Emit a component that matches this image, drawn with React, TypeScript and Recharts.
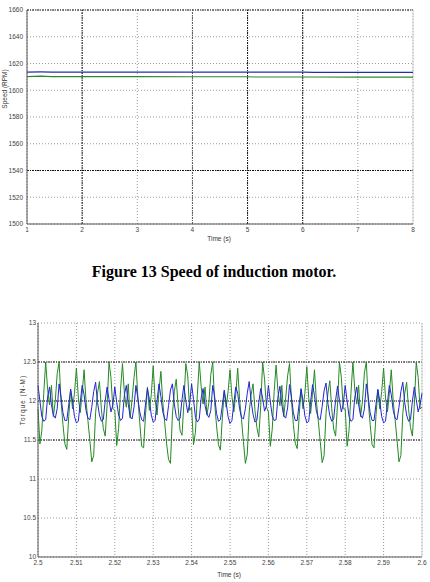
import React from "react";
import { LineChart, Line, XAxis, YAxis, CartesianGrid, ReferenceLine } from "recharts";

// ---------- Speed of induction motor (RPM) ----------
const speedTime = [1, 1.25, 1.45, 2, 3, 4, 5, 5.15, 6, 6.2, 7, 8];
const speedBlue = [1613.6, 1613.7, 1613.6, 1613.6, 1613.6, 1613.6, 1613.5, 1613.5, 1613.5, 1613.4, 1613.3, 1613.3];
const speedGreen = [1610.2, 1610.6, 1610.2, 1610.2, 1610.2, 1610.1, 1610.1, 1609.9, 1609.9, 1609.9, 1609.8, 1609.8];
const speedTicksX = [1, 2, 3, 4, 5, 6, 7, 8];
const speedTicksY = [1500, 1520, 1540, 1560, 1580, 1600, 1620, 1640, 1660];

// ---------- Electromagnetic torque (N-M), sampled every 0.5 ms ----------
const TORQUE_T0 = 2.5;
const TORQUE_DT = 0.0005;

const torqueGreenA = [11.9, 11.45, 11.62, 12.1, 12.5, 12.15, 11.95, 12.2, 11.8, 12.0, 12.35, 12.5, 12.0, 11.7, 11.45, 11.38, 11.8, 12.15, 11.9, 12.1, 12.42, 12.05, 11.85, 12.1, 12.4, 12.0, 11.75, 11.5, 11.22, 11.3, 11.85, 12.1, 12.25, 11.9, 11.65, 11.55, 11.95, 12.5, 12.3, 11.9];
const torqueGreenB = [11.88, 11.43, 11.65, 12.15, 12.48, 12.1, 11.92, 12.22, 11.78, 12.02, 12.3, 12.5, 12.05, 11.72, 11.42, 11.4, 11.82, 12.18, 11.88, 12.08, 12.45, 12.02, 11.82, 12.12, 12.38, 11.98, 11.72, 11.45, 11.25, 11.2, 11.82, 12.12, 12.28, 11.92, 11.62, 11.56, 11.98, 12.48, 12.32, 11.88];
const torqueGreenC = [11.92, 11.44, 11.6, 12.08, 12.5, 12.18, 11.96, 12.18, 11.82, 11.98, 12.34, 12.5, 11.98, 11.68, 11.44, 11.37, 11.78, 12.12, 11.92, 12.12, 12.4, 12.06, 11.86, 12.08, 12.42, 12.02, 11.76, 11.48, 11.2, 11.32, 11.86, 12.08, 12.22, 11.88, 11.66, 11.54, 11.94, 12.5, 12.28, 11.92];
const torqueGreenD = [11.86, 11.42, 11.64, 12.12, 12.46, 12.12, 11.94, 12.2, 11.8, 12.04, 12.32, 12.48, 12.02, 11.7, 11.46, 11.39, 11.8, 12.16, 11.9, 12.1, 12.44, 12.04, 11.84, 12.1, 12.4, 12.0, 11.74, 11.48, 11.21, 11.3, 11.84, 12.1, 12.26, 11.9, 11.64, 11.55, 11.96, 12.5, 12.3, 11.9];
const torqueGreenE = [11.9, 11.42, 11.62, 12.1, 12.5, 12.14, 11.96, 12.2, 11.8, 12.0, 12.36, 12.5, 12.0, 11.7, 11.44, 11.4, 11.8, 12.14, 11.9, 12.12, 12.42, 12.04, 11.86, 12.1, 12.4, 12.0, 11.76, 11.5, 11.22, 11.3, 11.84, 12.1, 12.24, 11.9, 11.66, 11.55, 11.95, 12.5, 12.3, 11.9, 11.92];

const torqueBlueA = [12.2, 12.0, 11.8, 11.74, 11.76, 12.05, 12.18, 11.95, 11.82, 11.78, 11.9, 12.22, 12.05, 11.85, 11.75, 11.75, 11.95, 12.15, 12.0, 11.8, 11.72, 11.74, 11.98, 12.2, 12.08, 11.88, 11.78, 11.76, 11.92, 12.12, 12.24, 11.98, 11.82, 11.74, 11.76, 12.0, 12.18, 12.02, 11.86, 11.95];
const torqueBlueB = [12.18, 11.98, 11.82, 11.75, 11.78, 12.08, 12.2, 11.96, 11.8, 11.77, 11.92, 12.2, 12.04, 11.86, 11.76, 11.74, 11.96, 12.16, 12.02, 11.82, 11.73, 11.75, 12.0, 12.22, 12.06, 11.86, 11.77, 11.75, 11.94, 12.14, 12.22, 11.96, 11.8, 11.75, 11.78, 12.02, 12.2, 12.0, 11.85, 11.97];
const torqueBlueC = [12.22, 12.02, 11.79, 11.73, 11.77, 12.04, 12.16, 11.94, 11.83, 11.79, 11.88, 12.2, 12.06, 11.84, 11.74, 11.76, 11.94, 12.14, 11.98, 11.8, 11.71, 11.75, 11.97, 12.18, 12.1, 11.9, 11.79, 11.77, 11.9, 12.1, 12.25, 12.0, 11.83, 11.73, 11.75, 11.98, 12.16, 12.04, 11.87, 11.94];
const torqueBlueD = [12.2, 11.99, 11.81, 11.75, 11.76, 12.06, 12.19, 11.95, 11.81, 11.78, 11.91, 12.21, 12.05, 11.85, 11.75, 11.75, 11.96, 12.15, 12.01, 11.81, 11.72, 11.74, 11.99, 12.21, 12.07, 11.87, 11.78, 11.76, 11.93, 12.13, 12.23, 11.97, 11.81, 11.74, 11.77, 12.01, 12.19, 12.01, 11.86, 11.96];
const torqueBlueE = [12.2, 12.0, 11.8, 11.74, 11.76, 12.05, 12.18, 11.95, 11.82, 11.78, 11.9, 12.22, 12.05, 11.85, 11.75, 11.75, 11.95, 12.15, 12.0, 11.8, 11.72, 11.74, 11.98, 12.2, 12.08, 11.88, 11.78, 11.76, 11.92, 12.12, 12.24, 11.98, 11.82, 11.74, 11.76, 12.0, 12.18, 12.02, 11.86, 11.95, 12.1];

const torqueTicksX = [2.5, 2.51, 2.52, 2.53, 2.54, 2.55, 2.56, 2.57, 2.58, 2.59, 2.6];
const torqueTickLabelsX = ["2.5", "2.51", "2.52", "2.53", "2.54", "2.55", "2.56", "2.57", "2.58", "2.59", "2.6"];
const torqueTicksY = [10, 10.5, 11, 11.5, 12, 12.5, 13];
const torqueTickLabelsY = ["10", "10.5", "11", "11.5", "12", "12.5", "13"];

const speedData = speedTime.map((t, i) => ({ t, blue: speedBlue[i], green: speedGreen[i] }));

const torqueGreen = [...torqueGreenA, ...torqueGreenB, ...torqueGreenC, ...torqueGreenD, ...torqueGreenE];
const torqueBlue = [...torqueBlueA, ...torqueBlueB, ...torqueBlueC, ...torqueBlueD, ...torqueBlueE];
const torqueData = torqueGreen.map((g, i) => ({
  t: +(TORQUE_T0 + i * TORQUE_DT).toFixed(4),
  green: g,
  blue: torqueBlue[i],
}));

const FONT = "'Liberation Sans', Arial, sans-serif";
const tickStyle = { fontSize: 6.5, fill: "#444", fontFamily: FONT };
const GRID = "#9a9a9a";
const DARK = "#111";
const DASHDOT = "2 1 1 1";

function SpeedChart() {
  return (
    <LineChart width={430} height={250} data={speedData} margin={{ top: 10, right: 17, left: 0, bottom: 0 }}>
      <CartesianGrid stroke={GRID} strokeDasharray="1 2" />
      <XAxis
        dataKey="t"
        type="number"
        domain={[1, 8]}
        ticks={speedTicksX}
        height={26}
        tickSize={1}
        tickMargin={2}
        tickLine={false}
        axisLine={{ stroke: "#555" }}
        tick={tickStyle}
        interval={0}
      />
      <YAxis
        type="number"
        domain={[1500, 1660]}
        ticks={speedTicksY}
        width={27}
        tickSize={2}
        tickMargin={2}
        tickLine={false}
        axisLine={{ stroke: "#555" }}
        tick={tickStyle}
        interval={0}
      />
      <ReferenceLine y={1660} stroke={DARK} strokeDasharray={DASHDOT} />
      <ReferenceLine y={1540} stroke={DARK} strokeDasharray={DASHDOT} />
      <ReferenceLine x={2} stroke={DARK} strokeDasharray={DASHDOT} />
      <ReferenceLine x={4} stroke="#555" strokeDasharray={DASHDOT} />
      <ReferenceLine x={5} stroke={DARK} strokeDasharray={DASHDOT} />
      <ReferenceLine x={6} stroke={DARK} strokeDasharray={DASHDOT} />
      <ReferenceLine x={8} stroke="#cfcfcf" />
      <Line dataKey="green" stroke="#2a8a2a" strokeWidth={1.2} dot={false} isAnimationActive={false} type="linear" />
      <Line dataKey="blue" stroke="#2a2ab0" strokeWidth={1.2} dot={false} isAnimationActive={false} type="linear" />
    </LineChart>
  );
}

function TorqueChart() {
  return (
    <LineChart width={430} height={282} data={torqueData} margin={{ top: 23, right: 8, left: 0, bottom: 0 }}>
      <CartesianGrid stroke={GRID} strokeDasharray="1 2" />
      <XAxis
        dataKey="t"
        type="number"
        domain={[2.5, 2.6]}
        ticks={torqueTicksX}
        tickFormatter={(v: number) => torqueTickLabelsX[torqueTicksX.findIndex((x) => Math.abs(x - v) < 1e-6)] ?? String(v)}
        height={25}
        tickSize={1}
        tickMargin={2}
        tickLine={false}
        axisLine={{ stroke: "#555" }}
        tick={tickStyle}
        interval={0}
      />
      <YAxis
        type="number"
        domain={[10, 13]}
        ticks={torqueTicksY}
        tickFormatter={(v: number) => torqueTickLabelsY[torqueTicksY.indexOf(v)] ?? String(v)}
        width={38}
        tickSize={1}
        tickMargin={1}
        tickLine={false}
        axisLine={{ stroke: "#555" }}
        tick={tickStyle}
        interval={0}
      />
      <ReferenceLine y={12.5} stroke={DARK} strokeDasharray={DASHDOT} />
      <ReferenceLine y={12} stroke={DARK} strokeDasharray="1 1" />
      <ReferenceLine y={11.5} stroke={DARK} strokeDasharray={DASHDOT} />
      <ReferenceLine x={2.6} stroke="#cfcfcf" />
      <Line dataKey="green" stroke="#238a23" strokeWidth={1} dot={false} isAnimationActive={false} type="linear" />
      <Line dataKey="blue" stroke="#2424d8" strokeWidth={1} dot={false} isAnimationActive={false} type="linear" />
    </LineChart>
  );
}

export default function App() {
  return (
    <div style={{ position: "absolute", left: 0, top: 0, width: 430, height: 582, background: "#fff", overflow: "hidden" }}>
      <div style={{ position: "absolute", left: 0, top: 0 }}>
        <SpeedChart />
      </div>
      <div style={{ position: "absolute", left: 0, top: 300 }}>
        <TorqueChart />
      </div>
      <svg width={430} height={582} style={{ position: "absolute", left: 0, top: 0, pointerEvents: "none" }}>
        <text x={219} y={241} textAnchor="middle" fontSize={6.5} fill="#333" fontFamily={FONT}>
          Time (s)
        </text>
        <text
          x={4}
          y={89}
          textAnchor="middle"
          dominantBaseline="central"
          fontSize={6.5}
          fill="#333"
          fontFamily={FONT}
          transform="rotate(-90 4 89)"
        >
          Speed (RPM)
        </text>
        <text
          x={214}
          y={277}
          textAnchor="middle"
          fontSize={16}
          fontWeight="bold"
          fill="#000"
          fontFamily="'Liberation Serif', 'Times New Roman', serif"
        >
          Figure 13 Speed of induction motor.
        </text>
        <text x={229} y={577} textAnchor="middle" fontSize={6.5} fill="#333" fontFamily={FONT}>
          Time (s)
        </text>
        <text
          x={22.5}
          y={400}
          textAnchor="middle"
          dominantBaseline="central"
          fontSize={6.5}
          letterSpacing={1}
          fill="#333"
          fontFamily={FONT}
          transform="rotate(-90 22.5 400)"
        >
          Torque (N-M)
        </text>
      </svg>
    </div>
  );
}
